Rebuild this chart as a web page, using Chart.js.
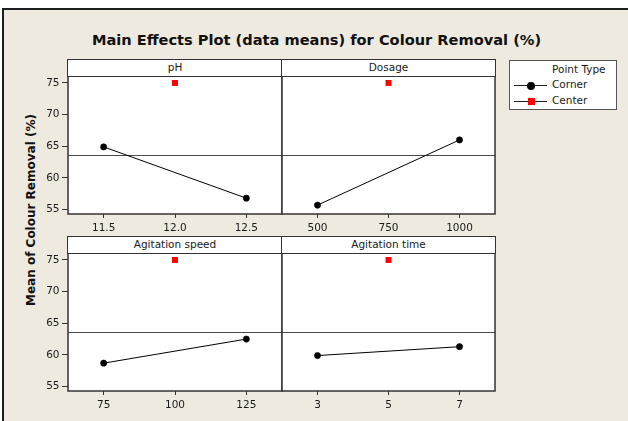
<!DOCTYPE html>
<html>
<head>
<meta charset="utf-8">
<script src="https://cdn.jsdelivr.net/npm/chart.js@4.4.1/dist/chart.umd.min.js"></script>
<style>
  html, body { margin:0; padding:0; background:#ffffff; width:628px; height:421px; overflow:hidden; }
  body { position:relative; font-family:'DejaVu Sans', sans-serif; }
  .abs { position:absolute; }
  #frame { left:2px; top:8px; width:640px; height:430px; background:#EEEAE0; border-left:2px solid #1e1e1e; border-top:2px solid #1e1e1e; box-sizing:border-box; }
  #title { left:0; top:31px; width:633px; height:18px; line-height:18px; text-align:center; font-weight:bold; font-size:14.6px; color:#111; white-space:nowrap; }
  #ylabel { left:-119px; top:202px; width:300px; height:16px; line-height:16px; text-align:center; font-weight:bold; font-size:12px; color:#111; transform:rotate(-90deg); white-space:nowrap; }
  .hdr { background:#fff; border:1.5px solid #333; box-sizing:border-box; text-align:center; font-size:10.5px; line-height:13px; color:#1a1a1a; white-space:nowrap; }
  #legend { left:509px; top:60px; width:108px; height:50px; background:#fff; border:1.5px solid #555; box-sizing:border-box; font-size:10.5px; color:#1a1a1a; }
  #legend .t { position:absolute; left:42px; line-height:13px; white-space:nowrap; }
  #legend .ln { position:absolute; left:4px; width:33px; height:1px; background:#222; }
  #legend .mk { position:absolute; }
</style>
</head>
<body>
<div id="frame" class="abs"></div>
<div id="title" class="abs">Main Effects Plot (data means) for Colour Removal (%)</div>
<div id="ylabel" class="abs">Mean of Colour Removal (%)</div>
<div id="legend" class="abs"></div>
<script>
// ---------- data ----------
const factorNames = ['pH', 'Dosage', 'Agitation speed', 'Agitation time'];
const lowLevels = [11.5, 500, 75, 3];
const centerLevels = [12.0, 750, 100, 5];
const highLevels = [12.5, 1000, 125, 7];
const cornerMeansLow = [64.9, 55.7, 58.7, 59.9];
const cornerMeansHigh = [56.8, 66.0, 62.5, 61.3];
const centerMeans = [75.0, 75.0, 75.0, 75.0];
const grandMean = 63.6;
const yTickValues = [55, 60, 65, 70, 75];
const xTickLabels = [['11.5', '12.0', '12.5'], ['500', '750', '1000'], ['75', '100', '125'], ['3', '5', '7']];
const legendTitle = 'Point Type';
const legendLabels = ['Corner', 'Center'];

// ---------- layout ----------
const yMin = 54.3, yMax = 76.1;
const panelBoxes = [
  { l: 68,  t: 76,  r: 282, b: 214 },
  { l: 282, t: 76,  r: 495, b: 214 },
  { l: 68,  t: 253, r: 282, b: 391 },
  { l: 282, t: 253, r: 495, b: 391 }
];
const FONT = { family: 'DejaVu Sans', size: 10.5 };
const TXT = '#1a1a1a';
const PAD_T = 12, PAD_L = 40, PAD_R = 2, PAD_B = 2, XAXIS_H = 26, YAXIS_W = 38;

const panelPlugin = {
  id: 'panelDecor',
  beforeDraw(chart) {
    const a = chart.chartArea, ctx = chart.ctx;
    ctx.save();
    ctx.fillStyle = '#ffffff';
    ctx.fillRect(a.left, a.top, a.right - a.left, a.bottom - a.top);
    ctx.restore();
  },
  beforeDatasetsDraw(chart) {
    const a = chart.chartArea, ctx = chart.ctx;
    const y = chart.scales.y.getPixelForValue(grandMean);
    ctx.save();
    ctx.strokeStyle = '#4a4a4a';
    ctx.lineWidth = 1;
    ctx.beginPath();
    ctx.moveTo(a.left, Math.round(y) + 0.5);
    ctx.lineTo(a.right, Math.round(y) + 0.5);
    ctx.stroke();
    ctx.restore();
  },
  afterDatasetsDraw(chart) {
    const a = chart.chartArea, ctx = chart.ctx;
    ctx.save();
    ctx.strokeStyle = '#333333';
    ctx.lineWidth = 1.5;
    ctx.strokeRect(a.left, a.top, a.right - a.left, a.bottom - a.top);
    ctx.restore();
  }
};

function makePanel(i) {
  const p = panelBoxes[i];
  const showY = (i % 2 === 0);
  const W = p.r - p.l, H = p.b - p.t;
  const cl = p.l - PAD_L, ct = p.t - PAD_T;
  const cw = W + PAD_L + PAD_R, ch = H + PAD_T + XAXIS_H + PAD_B;
  const cv = document.createElement('canvas');
  cv.className = 'abs';
  cv.width = cw; cv.height = ch;
  cv.style.left = cl + 'px'; cv.style.top = ct + 'px';
  cv.style.width = cw + 'px'; cv.style.height = ch + 'px';
  document.body.appendChild(cv);

  // header box
  const h = document.createElement('div');
  h.className = 'abs hdr';
  h.style.left = (p.l - 0.75) + 'px';
  h.style.top = (p.t - 16.75) + 'px';
  h.style.width = (W + 1.5) + 'px';
  h.style.height = '18px';
  h.style.paddingTop = '0.5px';
  h.textContent = factorNames[i];
  document.body.appendChild(h);

  const span = highLevels[i] - lowLevels[i];
  const xTicks = [lowLevels[i], centerLevels[i], highLevels[i]];

  new Chart(cv, {
    type: 'line',
    data: {
      datasets: [
        {
          label: legendLabels[0],
          data: [{ x: lowLevels[i], y: cornerMeansLow[i] }, { x: highLevels[i], y: cornerMeansHigh[i] }],
          borderColor: '#000', borderWidth: 1,
          pointStyle: 'circle', pointRadius: 3.1,
          pointBackgroundColor: '#000', pointBorderColor: '#000', pointBorderWidth: 0.6
        },
        {
          label: legendLabels[1],
          data: [{ x: centerLevels[i], y: centerMeans[i] }],
          showLine: false,
          borderColor: '#ff0000',
          pointStyle: 'rect', pointRadius: 4.2,
          pointBackgroundColor: '#ff0000', pointBorderColor: '#ff0000', pointBorderWidth: 0
        }
      ]
    },
    options: {
      responsive: false,
      animation: false,
      events: [],
      layout: { autoPadding: false, padding: { left: showY ? PAD_L - YAXIS_W : PAD_L, top: PAD_T, right: PAD_R, bottom: PAD_B } },
      plugins: { legend: { display: false }, tooltip: { enabled: false }, title: { display: false } },
      scales: {
        x: {
          type: 'linear',
          min: lowLevels[i] - 0.25 * span,
          max: highLevels[i] + 0.25 * span,
          afterBuildTicks: s => { s.ticks = xTicks.map(v => ({ value: v })); },
          afterFit: s => { s.height = XAXIS_H; },
          ticks: { callback: (v, idx) => xTickLabels[i][idx], autoSkip: false, maxRotation: 0, minRotation: 0, padding: 4, color: TXT, font: FONT },
          grid: { drawOnChartArea: false, drawTicks: true, tickLength: 4, color: '#333', lineWidth: 1 },
          border: { display: false }
        },
        y: {
          type: 'linear',
          display: showY,
          min: yMin, max: yMax,
          afterBuildTicks: s => { s.ticks = yTickValues.map(v => ({ value: v })); },
          afterFit: s => { s.width = showY ? YAXIS_W : 0; },
          ticks: { callback: (v, idx) => String(yTickValues[idx]), autoSkip: false, padding: 2.5, color: TXT, font: FONT },
          grid: { drawOnChartArea: false, drawTicks: true, tickLength: 6, color: '#333', lineWidth: 1 },
          border: { display: false }
        }
      }
    },
    plugins: [panelPlugin]
  });
}

for (let i = 0; i < 4; i++) makePanel(i);

// ---------- legend ----------
(function () {
  const lg = document.getElementById('legend');
  const add = (html) => { const d = document.createElement('div'); d.innerHTML = html; lg.appendChild(d.firstChild); };
  add('<div class="t" style="top:2px">' + legendTitle + '</div>');
  const rows = [24, 40];
  rows.forEach((cy, k) => {
    add('<div class="t" style="top:' + (cy - 7) + 'px">' + legendLabels[k] + '</div>');
    add('<div class="ln" style="top:' + cy + 'px"></div>');
    if (k === 0) {
      add('<div class="mk" style="left:17px;top:' + (cy - 3.5) + 'px;width:8px;height:8px;border-radius:50%;background:#000"></div>');
    } else {
      add('<div class="mk" style="left:17.5px;top:' + (cy - 3) + 'px;width:7px;height:7px;background:#ff0000"></div>');
    }
  });
})();
</script>
</body>
</html>
